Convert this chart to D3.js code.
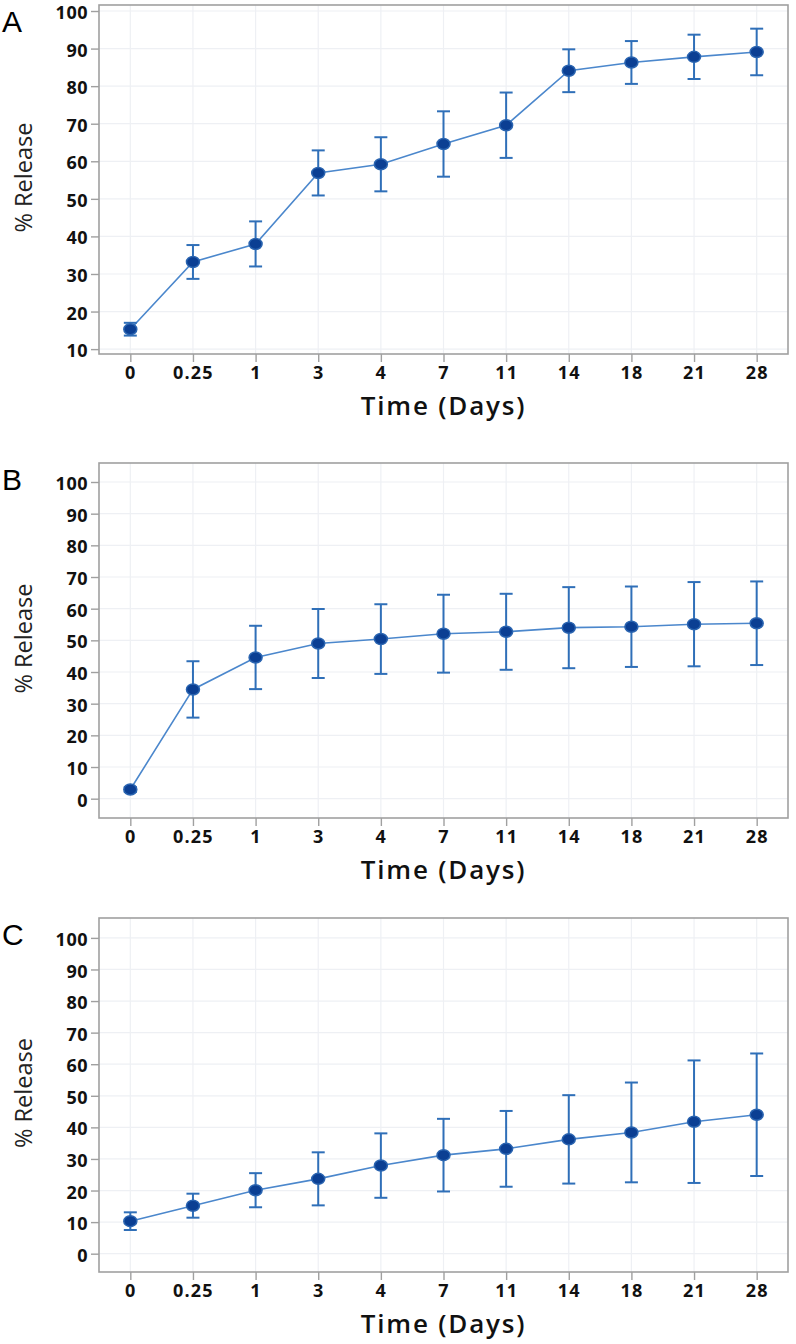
<!DOCTYPE html>
<html><head><meta charset="utf-8">
<script src="https://cdn.jsdelivr.net/npm/d3@7"></script>
<style>body{margin:0;background:#fff}svg{display:block}</style>
</head><body>
<svg id="chart" width="796" height="1344"></svg>
<script>
const timeLabels = ["0","0.25","1","3","4","7","11","14","18","21","28"];
const panelNames = ["A","B","C"];
const meanA = [15.3,33.2,38.0,56.9,59.2,64.6,69.6,84.1,86.3,87.8,89.1];
const errA  = [1.7,4.5,6.0,6.0,7.2,8.7,8.7,5.7,5.7,5.9,6.2];
const meanB = [2.9,34.5,44.6,49.0,50.4,52.1,52.7,54.0,54.3,55.1,55.4];
const errB  = [0.8,8.9,10.0,10.9,11.0,12.3,12.0,12.8,12.7,13.3,13.2];
const meanC = [10.3,15.2,20.1,23.7,27.9,31.2,33.2,36.2,38.4,41.8,44.0];
const errC  = [2.8,3.8,5.4,8.4,10.2,11.5,12.0,14.0,15.8,19.4,19.4];
const yTicksA = [10,20,30,40,50,60,70,80,90,100];
const yTicksBC = [0,10,20,30,40,50,60,70,80,90,100];

const svg = d3.select("#chart");
const panels = [
  {name:panelNames[0], mean:meanA, err:errA, ticks:yTicksA, top:5, bottom:354, dom:[8.7,101.6]},
  {name:panelNames[1], mean:meanB, err:errB, ticks:yTicksBC, top:463, bottom:818, dom:[-6.1,106]},
  {name:panelNames[2], mean:meanC, err:errC, ticks:yTicksBC, top:918, bottom:1272, dom:[-5.8,106.3]}
];
const left = 99, right = 788;
const lineColor = "#4b87cc", barColor = "#2f6fb8", dotFill = "#0b3f93", dotStroke = "#2a64b0";

panels.forEach(p => {
  const g = svg.append("g");
  const x = d3.scalePoint().domain(timeLabels).range([left, right]).padding(0.5);
  const y = d3.scaleLinear().domain(p.dom).range([p.bottom, p.top]);

  // grid
  g.append("g").selectAll("line.h").data(p.ticks).join("line")
    .attr("x1", left).attr("x2", right).attr("y1", d=>y(d)).attr("y2", d=>y(d))
    .attr("stroke", "#eef0f4").attr("stroke-width", 1.2);
  g.append("g").selectAll("line.v").data(timeLabels).join("line")
    .attr("x1", d=>x(d)).attr("x2", d=>x(d)).attr("y1", p.top).attr("y2", p.bottom)
    .attr("stroke", "#eef0f4").attr("stroke-width", 1.2);

  // frame
  g.append("rect").attr("x", left).attr("y", p.top).attr("width", right-left).attr("height", p.bottom-p.top)
    .attr("fill", "none").attr("stroke", "#a0a0a0").attr("stroke-width", 1.6);

  // axes
  const ya = d3.axisLeft(y).tickValues(p.ticks).tickSize(8).tickPadding(3);
  const yg = g.append("g").attr("transform", `translate(${left},0)`).call(ya);
  const xa = d3.axisBottom(x).tickSize(8).tickPadding(2);
  const xg = g.append("g").attr("transform", `translate(0,${p.bottom})`).call(xa);
  [yg, xg].forEach(ax => {
    ax.select(".domain").remove();
    ax.selectAll(".tick line").attr("stroke", "#a0a0a0").attr("stroke-width", 1.4);
    ax.selectAll(".tick text").attr("fill", "#111").style("font-family", "'Open Sans', sans-serif")
      .style("font-weight", "700").style("letter-spacing", "0.5px");
  });
  yg.selectAll(".tick text").style("font-size", "18px").attr("dy", "0.42em");
  xg.selectAll(".tick text").style("font-size", "18px").style("letter-spacing", "1.2px").attr("dy", "0.85em");

  // titles
  g.append("text").attr("x", (left+right)/2).attr("y", p.bottom + 61)
    .attr("text-anchor", "middle")
    .style("font-family", "'Open Sans', sans-serif").style("font-size", "26px").style("font-weight", "600")
    .style("letter-spacing", "1.8px")
    .attr("fill", "#111").text("Time (Days)");
  g.append("text").attr("transform", `translate(32,${(p.top+p.bottom)/2 - 2}) rotate(-90)`)
    .attr("text-anchor", "middle")
    .attr("textLength", 110).attr("lengthAdjust", "spacingAndGlyphs")
    .style("font-family", "'Open Sans', sans-serif").style("font-size", "24px")
    .attr("fill", "#222").text("% Release");
  g.append("text").attr("x", 2).attr("y", p.top + 27)
    .style("font-family", "'Liberation Sans', Arial, sans-serif").style("font-size", "30px")
    .attr("fill", "#000").text(p.name);

  const data = timeLabels.map((t,i) => ({t, m:p.mean[i], e:p.err[i]}));

  // line
  g.append("path").datum(data)
    .attr("d", d3.line().x(d=>x(d.t)).y(d=>y(d.m)))
    .attr("fill", "none").attr("stroke", lineColor).attr("stroke-width", 1.6);

  // error bars
  const eb = g.append("g").attr("stroke", barColor).attr("stroke-width", 2);
  eb.selectAll("line.v").data(data).join("line")
    .attr("x1", d=>x(d.t)).attr("x2", d=>x(d.t)).attr("y1", d=>y(d.m+d.e)).attr("y2", d=>y(d.m-d.e));
  eb.selectAll("line.t").data(data).join("line")
    .attr("x1", d=>x(d.t)-6.5).attr("x2", d=>x(d.t)+6.5).attr("y1", d=>y(d.m+d.e)).attr("y2", d=>y(d.m+d.e));
  eb.selectAll("line.b").data(data).join("line")
    .attr("x1", d=>x(d.t)-6.5).attr("x2", d=>x(d.t)+6.5).attr("y1", d=>y(d.m-d.e)).attr("y2", d=>y(d.m-d.e));

  // markers
  g.append("g").selectAll("ellipse").data(data).join("ellipse")
    .attr("cx", d=>x(d.t)).attr("cy", d=>y(d.m)).attr("rx", 6.5).attr("ry", 5.5)
    .attr("fill", dotFill).attr("stroke", dotStroke).attr("stroke-width", 1.5);
});
</script>
</body></html>
